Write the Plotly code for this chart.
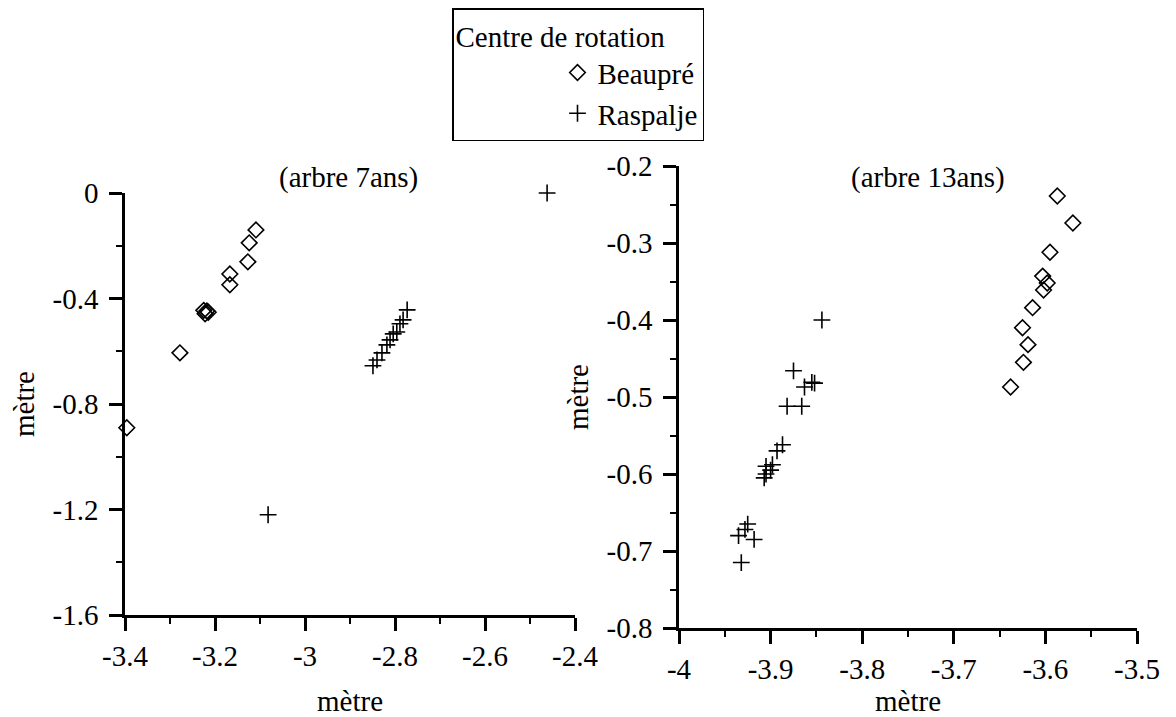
import plotly.graph_objects as go

# Tree aged 7 years: rotation-centre coordinates (metres)
beaupre7_x = [-3.109, -3.124, -3.127, -3.167, -3.167, -3.225, -3.218, -3.222, -3.215, -3.278, -3.396]
beaupre7_y = [-0.140, -0.189, -0.261, -0.307, -0.348, -0.445, -0.447, -0.458, -0.452, -0.606, -0.890]
raspalje7_x = [-2.462, -3.082, -2.773, -2.782, -2.789, -2.796, -2.804, -2.811, -2.818, -2.829, -2.840, -2.849]
raspalje7_y = [0.000, -1.220, -0.443, -0.481, -0.496, -0.527, -0.534, -0.557, -0.576, -0.606, -0.633, -0.655]

# Tree aged 13 years
beaupre13_x = [-3.587, -3.570, -3.595, -3.603, -3.598, -3.602, -3.614, -3.625, -3.619, -3.624, -3.638]
beaupre13_y = [-0.239, -0.274, -0.312, -0.343, -0.352, -0.361, -0.384, -0.410, -0.432, -0.455, -0.487]
raspalje13_x = [-3.844, -3.875, -3.855, -3.852, -3.863, -3.882, -3.866, -3.887, -3.893, -3.898,
                -3.905, -3.900, -3.905, -3.907, -3.925, -3.928, -3.935, -3.918, -3.932]
raspalje13_y = [-0.400, -0.466, -0.481, -0.482, -0.487, -0.512, -0.512, -0.562, -0.570, -0.588,
                -0.590, -0.595, -0.600, -0.605, -0.665, -0.672, -0.680, -0.685, -0.715]

# Axis ticks
x7_ticks = [-3.4, -3.2, -3.0, -2.8, -2.6, -2.4]
x7_labels = ["-3.4", "-3.2", "-3", "-2.8", "-2.6", "-2.4"]
y7_ticks = [0.0, -0.4, -0.8, -1.2, -1.6]
y7_labels = ["0", "-0.4", "-0.8", "-1.2", "-1.6"]
x13_ticks = [-4.0, -3.9, -3.8, -3.7, -3.6, -3.5]
x13_labels = ["-4", "-3.9", "-3.8", "-3.7", "-3.6", "-3.5"]
y13_ticks = [-0.2, -0.3, -0.4, -0.5, -0.6, -0.7, -0.8]
y13_labels = ["-0.2", "-0.3", "-0.4", "-0.5", "-0.6", "-0.7", "-0.8"]

W, H = 1176, 717
FONT = "Liberation Serif, Times New Roman, serif"
FS = 29

diamond = dict(symbol="diamond-open", size=12, color="black", line=dict(width=1.6, color="black"))
plus = dict(symbol="cross-thin", size=12, color="black", line=dict(width=1.6, color="black"))

fig = go.Figure()
fig.add_trace(go.Scatter(x=beaupre7_x, y=beaupre7_y, mode="markers", marker=diamond,
                         name="Beaupré", legendgroup="b", xaxis="x", yaxis="y", cliponaxis=False))
fig.add_trace(go.Scatter(x=raspalje7_x, y=raspalje7_y, mode="markers", marker=plus,
                         name="Raspalje", legendgroup="r", xaxis="x", yaxis="y", cliponaxis=False))
fig.add_trace(go.Scatter(x=beaupre13_x, y=beaupre13_y, mode="markers", marker=diamond,
                         name="Beaupré", legendgroup="b", showlegend=False,
                         xaxis="x2", yaxis="y2", cliponaxis=False))
fig.add_trace(go.Scatter(x=raspalje13_x, y=raspalje13_y, mode="markers", marker=plus,
                         name="Raspalje", legendgroup="r", showlegend=False,
                         xaxis="x2", yaxis="y2", cliponaxis=False))


def axis(domain, rng, ticks, labels, minor_dtick, anchor, standoff, title_standoff):
    return dict(
        domain=domain, range=rng, anchor=anchor, automargin=False,
        tickmode="array", tickvals=ticks, ticktext=labels,
        ticks="outside", ticklen=13, tickwidth=2.5, tickcolor="black",
        ticklabelstandoff=standoff,
        minor=dict(dtick=minor_dtick, ticks="outside", ticklen=6, tickwidth=1.5, tickcolor="black"),
        showline=True, linewidth=2.5, linecolor="black",
        showgrid=False, zeroline=False,
        tickfont=dict(family=FONT, size=FS, color="black"),
        title=dict(text="mètre", font=dict(family=FONT, size=FS, color="black"), standoff=title_standoff),
    )


def px_x(p):
    return p / W


def px_y(p):
    return 1 - p / H


fig.update_layout(
    template="none",
    width=W, height=H,
    margin=dict(l=0, r=0, t=0, b=0, pad=0),
    paper_bgcolor="white", plot_bgcolor="white",
    font=dict(family=FONT, size=FS, color="black"),
    xaxis=axis([px_x(125), px_x(575)], [-3.4, -2.4], x7_ticks, x7_labels, 0.1, "y", 0, 25),
    yaxis=axis([px_y(615), px_y(193)], [-1.6, 0.0], y7_ticks, y7_labels, 0.2, "x", 5, 10),
    xaxis2=axis([px_x(679), px_x(1137)], [-4.0, -3.5], x13_ticks, x13_labels, 0.05, "y2", 0, 8),
    yaxis2=axis([px_y(628), px_y(166)], [-0.8, -0.2], y13_ticks, y13_labels, 0.05, "x2", 5, 10),
    showlegend=True,
    legend=dict(
        x=px_x(452), y=px_y(8), xanchor="left", yanchor="top",
        bordercolor="black", borderwidth=1.5, bgcolor="white",
        title=dict(text="Centre de rotation", font=dict(family=FONT, size=FS, color="black")),
        font=dict(family=FONT, size=FS, color="black"),
        indentation=104,
        entrywidth=112, entrywidthmode="pixels",
        tracegroupgap=0,
    ),
    annotations=[
        dict(text="(arbre 7ans)", x=px_x(348), y=px_y(177), xref="paper", yref="paper",
             xanchor="center", yanchor="middle",
             showarrow=False, font=dict(family=FONT, size=FS, color="black")),
        dict(text="(arbre 13ans)", x=px_x(928), y=px_y(177), xref="paper", yref="paper",
             xanchor="center", yanchor="middle",
             showarrow=False, font=dict(family=FONT, size=FS, color="black")),
    ],
)

fig.write_html("out.html")
